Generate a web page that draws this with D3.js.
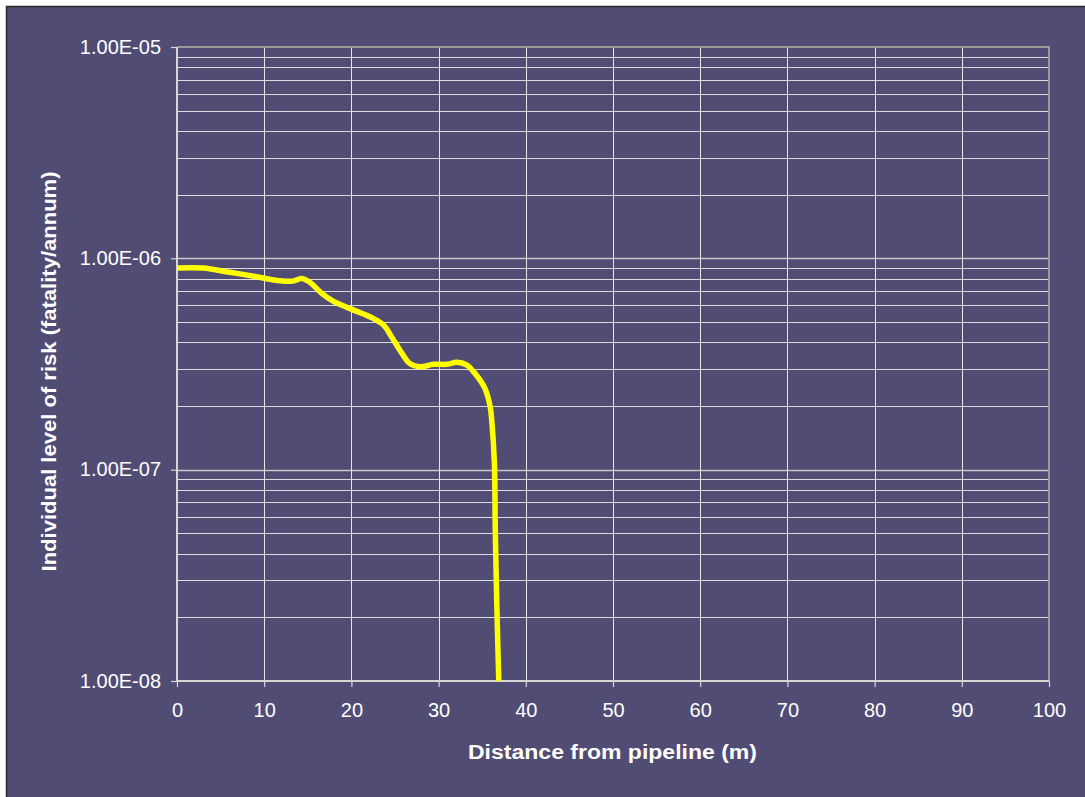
<!DOCTYPE html>
<html>
<head>
<meta charset="utf-8">
<script src="https://cdn.jsdelivr.net/npm/d3@7"></script>
<style>
  html, body { margin: 0; padding: 0; background: #ffffff; }
  svg { display: block; }
  text { font-family: "Liberation Sans", Arial, sans-serif; }
</style>
</head>
<body>
<svg id="chart" width="1085" height="797"></svg>
<script>
// Individual risk versus distance from the pipeline
const distance = [0, 3, 6, 9, 11.8, 13.3, 14.3, 15.3, 16.6, 17.9, 20, 22.5, 23.7, 24.6, 25.8, 26.7, 27.9, 29.4, 30.9, 32.1, 33.2, 34.0, 35.3, 35.9, 36.1, 36.4, 36.5, 36.7, 36.9];
const risk = [9.0e-7, 9.0e-7, 8.6e-7, 8.2e-7, 7.83e-7, 7.8e-7, 8.03e-7, 7.67e-7, 6.83e-7, 6.28e-7, 5.75e-7, 5.2e-7, 4.83e-7, 4.26e-7, 3.55e-7, 3.18e-7, 3.07e-7, 3.15e-7, 3.15e-7, 3.22e-7, 3.13e-7, 2.91e-7, 2.43e-7, 2.0e-7, 1.7e-7, 1.07e-7, 5.2e-8, 2.1e-8, 1.0e-8];

const xTicks = [0, 10, 20, 30, 40, 50, 60, 70, 80, 90, 100];
const yMajorTicks = [1e-8, 1e-7, 1e-6, 1e-5];
const yTickLabels = ["1.00E-08", "1.00E-07", "1.00E-06", "1.00E-05"];
const xTitle = "Distance from pipeline (m)";
const yTitle = "Individual level of risk (fatality/annum)";

const svg = d3.select("#chart");
const W = 1085, H = 797;
const plot = { left: 177, right: 1049, top: 47, bottom: 681 };

// panel background with dark frame on top/left
svg.append("rect").attr("x", 7).attr("y", 7).attr("width", W - 7).attr("height", H - 7)
  .attr("fill", "#514C74");
svg.append("line").attr("x1", 6.5).attr("x2", 6.5).attr("y1", 6).attr("y2", H)
  .attr("stroke", "#2a2a2a").attr("stroke-width", 1.5);
svg.append("line").attr("x1", 6).attr("x2", W).attr("y1", 6.5).attr("y2", 6.5)
  .attr("stroke", "#2a2a2a").attr("stroke-width", 1.5);

const x = d3.scaleLinear().domain([0, 100]).range([plot.left, plot.right]);
const y = d3.scaleLog().domain([1e-8, 1e-5]).range([plot.bottom, plot.top]);

// minor log gridlines (2..9 in each decade)
const minor = [];
for (let e = -8; e < -5; e++) {
  for (let m = 2; m <= 9; m++) minor.push(m * Math.pow(10, e));
}
const grid = svg.append("g");
grid.selectAll("line.minor").data(minor).join("line")
  .attr("class", "minor")
  .attr("x1", plot.left).attr("x2", plot.right)
  .attr("y1", d => Math.round(y(d)) + 0.5).attr("y2", d => Math.round(y(d)) + 0.5)
  .attr("stroke", "#DCDCDC").attr("stroke-width", 1.2);
grid.selectAll("line.major").data(yMajorTicks.slice(1, 3)).join("line")
  .attr("class", "major")
  .attr("x1", plot.left).attr("x2", plot.right)
  .attr("y1", d => Math.round(y(d)) + 0.5).attr("y2", d => Math.round(y(d)) + 0.5)
  .attr("stroke", "#C8C8C8").attr("stroke-width", 1.6);
grid.selectAll("line.vx").data(xTicks.slice(1, -1)).join("line")
  .attr("class", "vx")
  .attr("x1", d => Math.round(x(d)) + 0.5).attr("x2", d => Math.round(x(d)) + 0.5)
  .attr("y1", plot.top).attr("y2", plot.bottom)
  .attr("stroke", "#E6E6E6").attr("stroke-width", 1);

// plot frame: top and right in grey
svg.append("line").attr("x1", plot.left).attr("x2", plot.right + 1).attr("y1", plot.top).attr("y2", plot.top)
  .attr("stroke", "#9A9A9A").attr("stroke-width", 2);
svg.append("line").attr("x1", plot.right).attr("x2", plot.right).attr("y1", plot.top).attr("y2", plot.bottom)
  .attr("stroke", "#9A9A9A").attr("stroke-width", 2);

// axes
const xAxis = d3.axisBottom(x).tickValues(xTicks).tickSize(6).tickPadding(16).tickFormat(d3.format("d"));
const yAxis = d3.axisLeft(y).tickValues(yMajorTicks).tickSize(6).tickPadding(10)
  .tickFormat((d, i) => yTickLabels[i]);

const gx = svg.append("g").attr("transform", `translate(0,${plot.bottom})`).call(xAxis);
const gy = svg.append("g").attr("transform", `translate(${plot.left},0)`).call(yAxis);

[gx, gy].forEach(g => {
  g.select(".domain").attr("stroke", "#D6D6D6").attr("stroke-width", 2);
  g.selectAll(".tick line").attr("stroke", "#D6D6D6").attr("stroke-width", 1.2);
  g.selectAll(".tick text").attr("fill", "#ffffff")
    .style("font-family", "'Liberation Sans', Arial, sans-serif")
    .style("font-size", "20px");
});
gx.select(".domain").attr("d", `M${plot.left},0H${plot.right}`);
gy.select(".domain").attr("d", `M0,${plot.bottom}V${plot.top}`);
gx.selectAll(".tick text").attr("dy", "0.71em");
gy.selectAll(".tick text").attr("dy", "0.3em");

// risk curve
const line = d3.line()
  .x((d, i) => x(distance[i]))
  .y((d, i) => y(risk[i]))
  .curve(d3.curveCatmullRom.alpha(0.5));
svg.append("path")
  .attr("d", line(risk))
  .attr("fill", "none")
  .attr("stroke", "#FFFF00")
  .attr("stroke-width", 5.5)
  .attr("stroke-linejoin", "round");

// axis titles
svg.append("text")
  .attr("x", 612.5).attr("y", 759)
  .attr("text-anchor", "middle")
  .attr("fill", "#ffffff")
  .attr("font-weight", "bold")
  .style("font-size", "19.5px")
  .attr("textLength", 289).attr("lengthAdjust", "spacingAndGlyphs")
  .text(xTitle);

svg.append("text")
  .attr("transform", "translate(56,371.5) rotate(-90)")
  .attr("text-anchor", "middle")
  .attr("fill", "#ffffff")
  .attr("font-weight", "bold")
  .style("font-size", "19.5px")
  .attr("textLength", 400).attr("lengthAdjust", "spacingAndGlyphs")
  .text(yTitle);
</script>
</body>
</html>
